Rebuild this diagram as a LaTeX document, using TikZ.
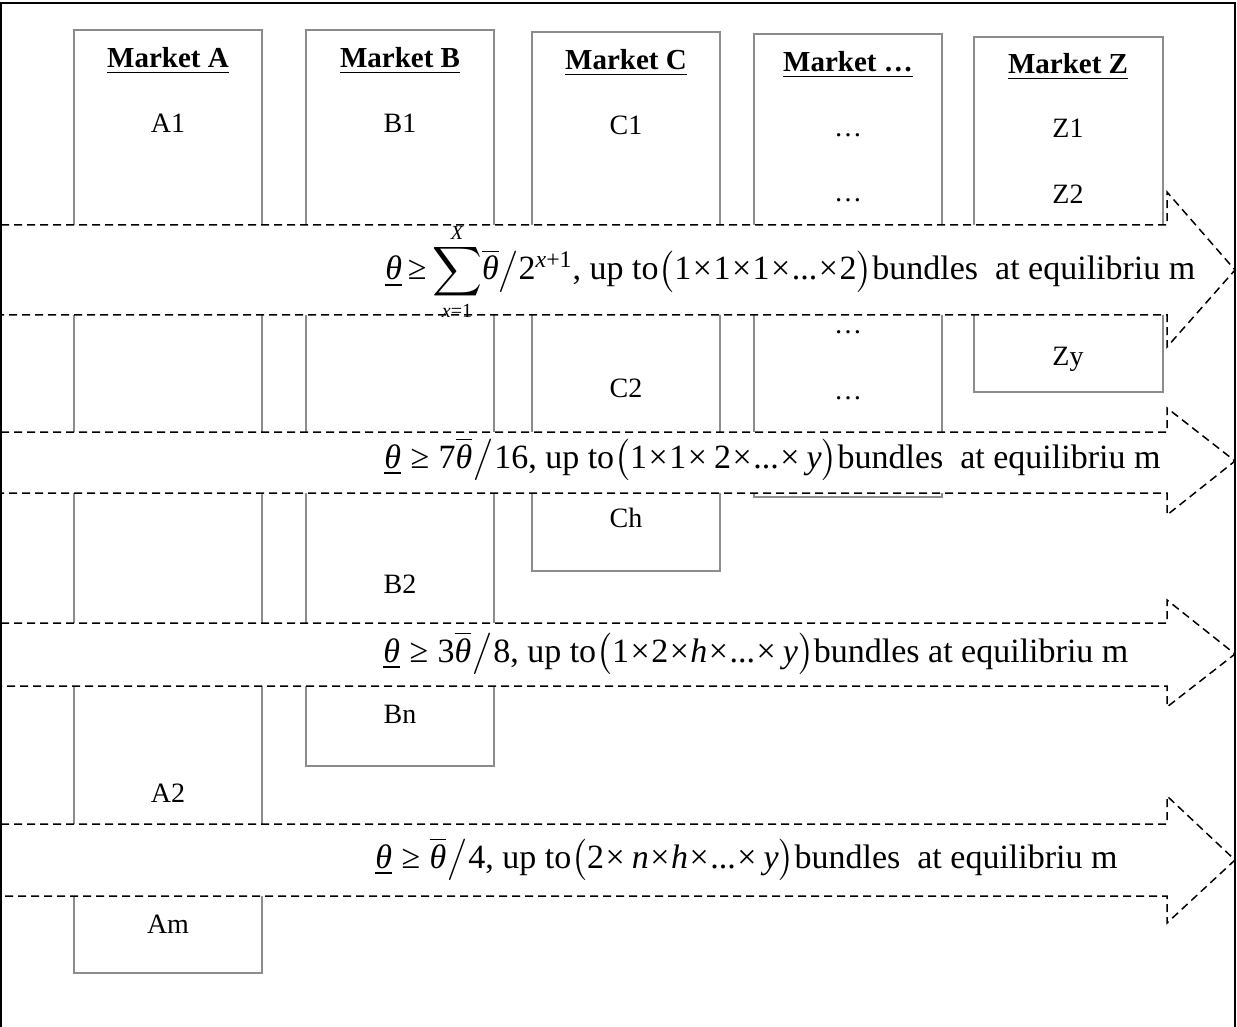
\documentclass[tikz,border=0pt]{standalone}
\usepackage{amsmath}
\usepackage{fontspec}
\setmainfont{Liberation Serif}

% Bar over an italic theta, built from the text font
\newcommand{\thbar}{$\overline{\mbox{\itshape θ}}$}
\newcommand{\thlow}{\underline{\itshape θ}}
\newcommand{\tms}{\kern0.75pt×\kern0.75pt}
\newcommand{\geqsp}{\;≥\;}
\newcommand{\slsh}{\kern0.5pt$\big/$\kern0.5pt}
\newcommand{\limfont}{\fontsize{10}{12}\selectfont}

\begin{document}
\begin{tikzpicture}[
    x=0.5pt, y=-0.5pt,
    lbl/.style={anchor=base, inner sep=0pt, font=\fontsize{14}{16}\selectfont},
    hdr/.style={anchor=base, inner sep=0pt, font=\fontsize{14.5}{17}\selectfont\bfseries},
    eqn/.style={anchor=base west, inner sep=0pt, font=\fontsize{17}{20}\selectfont},
    mbox/.style={draw=boxgray, line width=0.75pt},
    band/.style={draw=black, dash pattern=on 4pt off 2.5pt, line width=0.75pt, fill=white}
]

% Colours
\definecolor{boxgray}{RGB}{140, 140, 140}

% Page size (pixel grid, y going down)
\useasboundingbox (0,0) rectangle (1237,1027);

% Arrow geometry
\def\shaftx{1167}
\def\tipx{1235}

% Market columns
\draw[mbox] (74,30) rectangle (262,973);
\draw[mbox] (306,30) rectangle (494,766);
\draw[mbox] (532,32) rectangle (720,571);
\draw[mbox] (754,34) rectangle (942,497);
\draw[mbox] (974,37) rectangle (1163,392);

% Equilibrium bands (white arrows drawn over the columns)
\draw[band] (1,225) -- (\shaftx,225) -- (\shaftx,192) -- (\tipx,270)
    -- (\shaftx,347) -- (\shaftx,315) -- (1,315);
\draw[band] (1,432) -- (\shaftx,432) -- (\shaftx,408) -- (\tipx,461)
    -- (\shaftx,515) -- (\shaftx,493) -- (1,493);
\draw[band] (1,623) -- (\shaftx,623) -- (\shaftx,600) -- (\tipx,654)
    -- (\shaftx,707) -- (\shaftx,686) -- (1,686);
\draw[band] (1,824) -- (\shaftx,824) -- (\shaftx,796) -- (\tipx,860)
    -- (\shaftx,923) -- (\shaftx,896) -- (1,896);

% Outer frame
\draw[line width=1pt] (1,1027) -- (1,3) -- (1235,3) -- (1235,1027);

% Column headers
\node[hdr] (mktA) at (168,68) {\underline{Market A}};
\node[hdr] (mktB) at (400,68) {\underline{Market B}};
\node[hdr] (mktC) at (626,70) {\underline{Market C}};
\node[hdr] (mktX) at (848,72) {\underline{Market …}};
\node[hdr] (mktZ) at (1068,74) {\underline{Market Z}};

% Items, market A
\node[lbl] (a1) at (168,133) {A1};
\node[lbl] (a2) at (168,802) {A2};
\node[lbl] (am) at (168,933) {Am};

% Items, market B
\node[lbl] (b1) at (400,133) {B1};
\node[lbl] (b2) at (400,593) {B2};
\node[lbl] (bn) at (400,723) {Bn};

% Items, market C
\node[lbl] (c1) at (626,135) {C1};
\node[lbl] (c2) at (626,397) {C2};
\node[lbl] (ch) at (626,527) {Ch};

% Items, market ...
\node[lbl] (x1) at (848,137) {…};
\node[lbl] (x2) at (848,202) {…};
\node[lbl] (x3) at (848,334) {…};
\node[lbl] (x4) at (848,399) {…};

% Items, market Z
\node[lbl] (z1) at (1068,138) {Z1};
\node[lbl] (z2) at (1068,204) {Z2};
\node[lbl] (zy) at (1068,365) {Zy};

% Band texts
\node[eqn] (eq1) at (385,280) {\thlow\,≥\,$\displaystyle\sum_{\raisebox{2pt}[0pt][0pt]{\limfont\itshape x\upshape=1}}^{\raisebox{-9pt}[0pt][0pt]{\limfont\itshape X}}$\thbar$\big/$2$^{\text{\itshape x\upshape+1}}$, up to$\big($1\tms1\tms1\tms...\tms2$\big)$bundles\ \ at equilibriu m};
\node[eqn] (eq2) at (384,468) {\thlow\geqsp7\thbar\slsh16, up to$\big($1\tms1\tms\,2\tms...\tms\,\textit{y}$\big)$bundles\ \ at equilibriu m};
\node[eqn] (eq3) at (383,662) {\thlow\geqsp3\thbar\slsh8, up to$\big($1\tms2\tms\textit{h}\tms...\tms\,\textit{y}$\big)$bundles at equilibriu m};
\node[eqn] (eq4) at (375,868) {\thlow\geqsp\thbar\slsh4, up to$\big($2\tms\,\textit{n}\tms\textit{h}\tms...\tms\,\textit{y}$\big)$bundles\ \ at equilibriu m};

\end{tikzpicture}
\end{document}
